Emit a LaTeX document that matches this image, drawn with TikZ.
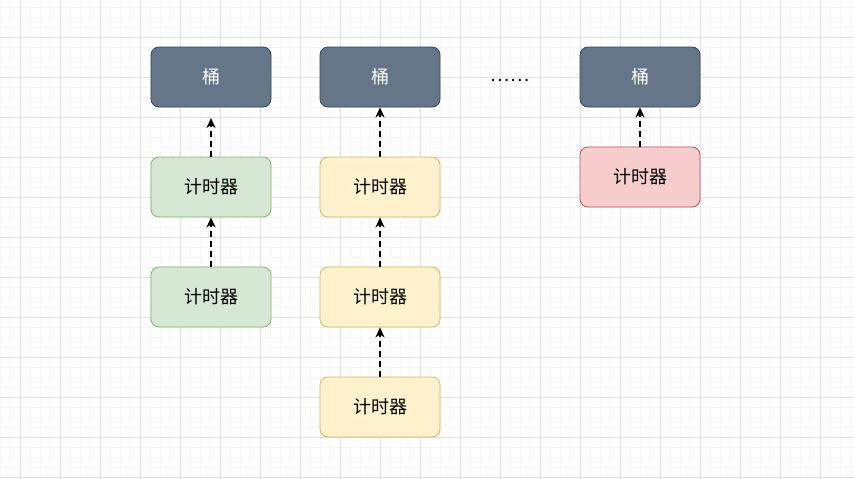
\documentclass[tikz,border=0pt]{standalone}
\usepackage{fontspec}
\newfontfamily\cjk{Noto Sans CJK SC}
\usetikzlibrary{arrows.meta}
\definecolor{bucketfill}{HTML}{647687}
\definecolor{bucketline}{HTML}{314354}
\definecolor{greenfill}{HTML}{D5E8D4}
\definecolor{greenline}{HTML}{82B366}
\definecolor{yellowfill}{HTML}{FFF2CC}
\definecolor{yellowline}{HTML}{D6B656}
\definecolor{redfill}{HTML}{F8CECC}
\definecolor{redline}{HTML}{B85450}
\tikzset{
  box/.style={draw,rounded corners=8pt,minimum width=120pt,minimum height=60pt,inner sep=0pt,line width=0.8pt,font=\cjk\fontsize{18}{21}\selectfont},
  bucket/.style={box,fill=bucketfill,draw=bucketline,text=white},
  greentimer/.style={box,fill=greenfill,draw=greenline},
  yellowtimer/.style={box,fill=yellowfill,draw=yellowline},
  redtimer/.style={box,fill=redfill,draw=redline},
  link/.style={-{Stealth[length=10pt,width=9pt,inset=3pt]},line width=1.8pt,dash pattern=on 6pt off 4pt},
  minorgrid/.style={draw=black!4,line width=1pt},
  majorgrid/.style={draw=black!12,line width=1pt}
}
\begin{document}
\begin{tikzpicture}[x=1pt,y=-1pt]
        \useasboundingbox (0,0) rectangle (854,479);
        \fill[white] (0,0) rectangle (854,479);
        % grid
        \foreach \x in {0,10,...,850} \draw[minorgrid] (\x,0) -- (\x,479);
        \foreach \y in {7,17,...,477} \draw[minorgrid] (0,\y) -- (854,\y);
        \foreach \x in {20,60,...,820} \draw[majorgrid] (\x,0) -- (\x,479);
        \foreach \y in {37,77,...,477} \draw[majorgrid] (0,\y) -- (854,\y);

        \node[bucket] (b1) at (211,77) {桶};
        \node[greentimer] (t11) at (211,187) {计时器};
        \node[greentimer] (t12) at (211,297) {计时器};
        \coordinate (b1end) at (211,118);

        \node[bucket] (b2) at (380,77) {桶};
        \node[yellowtimer] (t21) at (380,187) {计时器};
        \node[yellowtimer] (t22) at (380,297) {计时器};
        \node[yellowtimer] (t23) at (380,407) {计时器};

        \node[font=\cjk\fontsize{18}{21}\selectfont] (dots) at (510,80) {……};

        \node[bucket] (b3) at (640,77) {桶};
        \node[redtimer] (t31) at (640,177) {计时器};

        \draw[link] (t11) -- (b1end);
        \draw[link] (t12) -- (t11);
        \draw[link] (t21) -- (b2);
        \draw[link] (t22) -- (t21);
        \draw[link] (t23) -- (t22);
        \draw[link] (t31) -- (b3);
    \end{tikzpicture}
\end{document}
